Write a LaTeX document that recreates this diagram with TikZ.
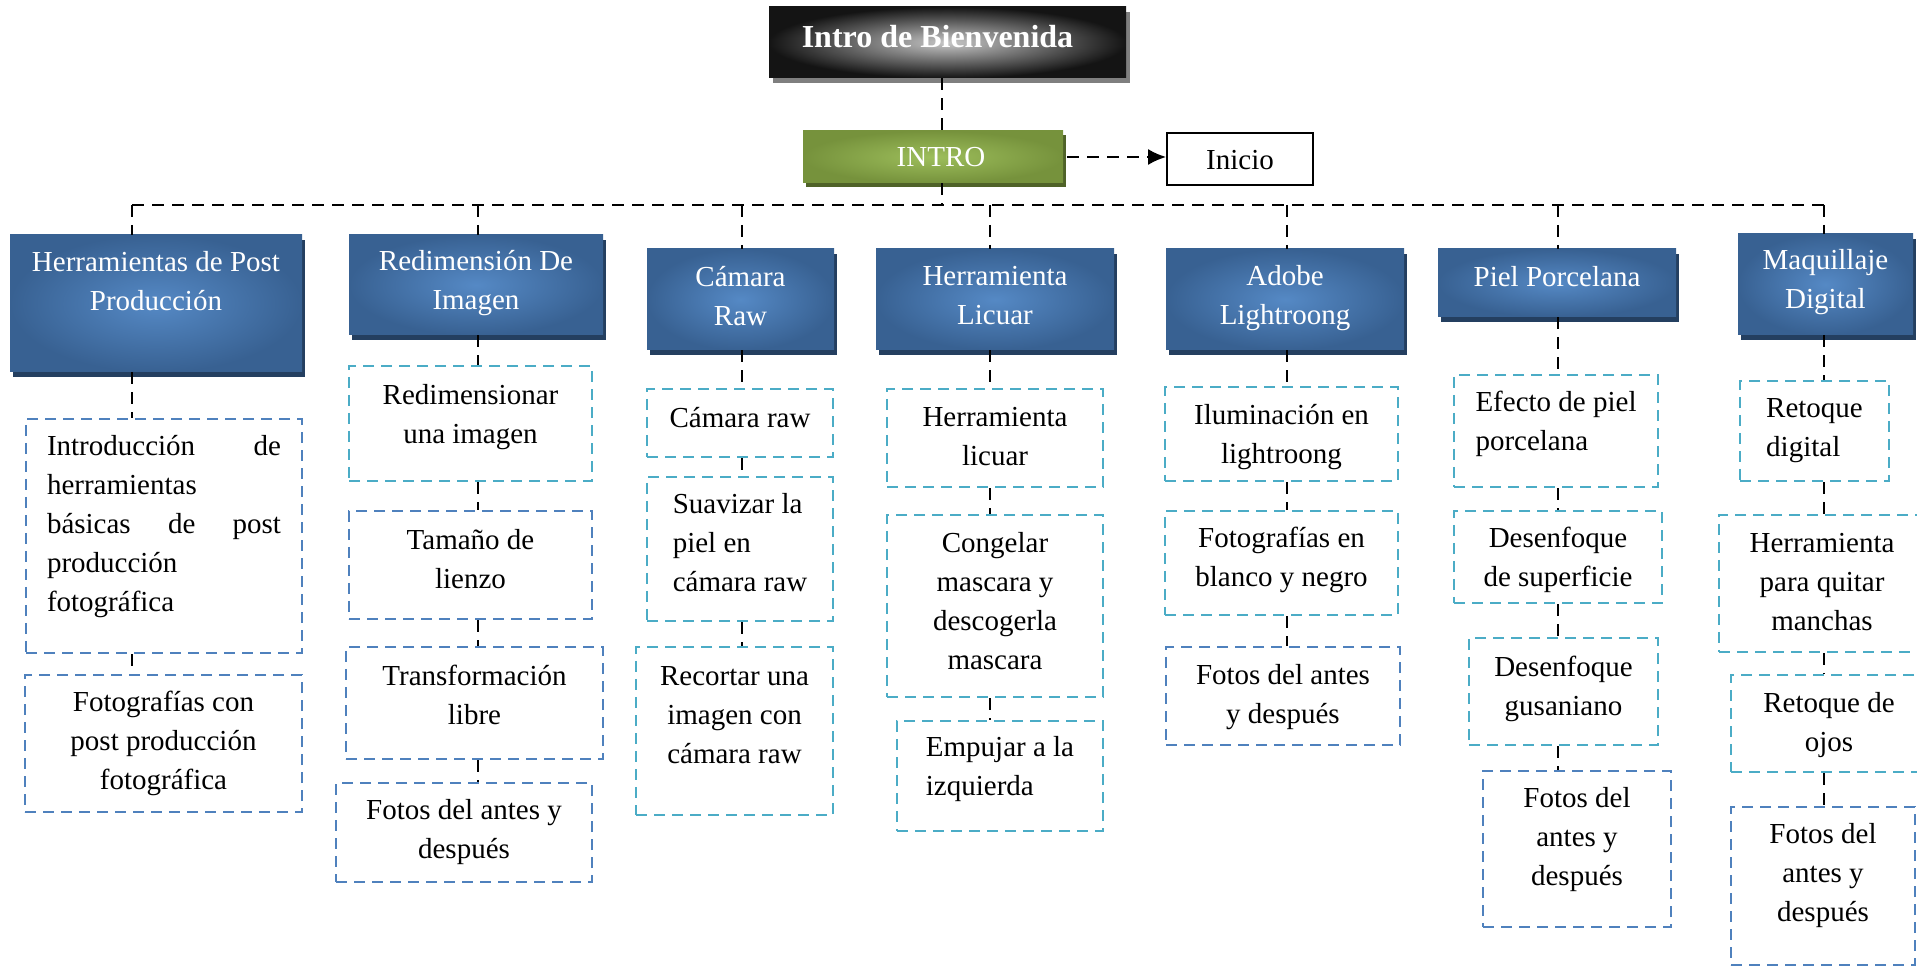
\documentclass[tikz,border=0pt]{standalone}
\usepackage{fontspec}
\setmainfont{Liberation Serif}
\usetikzlibrary{arrows.meta,shadows}
\definecolor{hdrL}{HTML}{5589C5}
\definecolor{hdrD}{HTML}{386192}
\definecolor{hdrS}{HTML}{243F60}
\definecolor{grnL}{HTML}{9DBE5B}
\definecolor{grnD}{HTML}{76923C}
\definecolor{grnS}{HTML}{4F6228}
\definecolor{topS}{HTML}{7F7F7F}
\definecolor{cyanB}{HTML}{4BACC6}
\definecolor{blueB}{HTML}{4F81BD}

\newcommand\mybox[9]{%
  \node[#6, minimum width={(#4-#2)*0.5pt}, minimum height={(#5-#3)*0.5pt}] (#1) at ({(#2+#4)/2},{(#3+#5)/2}) {};
  \node[#7] (#1t) at ({(#2+#4)/2},#8) {#9};}

\tikzset{
  fnt/.style={font=\fontsize{14.5pt}{19.5pt}\selectfont},
  hdr/.style={rectangle, draw=none, inner color=hdrL, outer color=hdrD,
    drop shadow={shadow xshift=1.5pt, shadow yshift=-2.5pt, fill=hdrS, opacity=1}},
  topbox/.style={rectangle, draw=none, inner color=black!22, outer color=black!92,
    drop shadow={shadow xshift=2pt, shadow yshift=-2.5pt, fill=topS, opacity=1}},
  introbox/.style={rectangle, draw=none, inner color=grnL, outer color=grnD,
    drop shadow={shadow xshift=1.5pt, shadow yshift=-2pt, fill=grnS, opacity=1}},
  iniciobox/.style={rectangle, draw=black, line width=0.9pt},
  dc/.style={rectangle, draw=cyanB, line width=1.2pt, dash pattern=on 5.5pt off 3.5pt},
  db/.style={rectangle, draw=blueB, line width=1.2pt, dash pattern=on 5.5pt off 3.5pt},
  htxt/.style={fnt, text=white, align=center, inner sep=0pt},
  btxt/.style={fnt, text=black, align=center, inner sep=0pt},
  ltxt/.style={fnt, text=black, align=left, inner sep=0pt},
  jtxt/.style={fnt, text=black, align=left, text width=117pt, inner sep=0pt},
  toptxt/.style={font=\fontsize{16pt}{19pt}\selectfont\bfseries, text=white, inner sep=0pt, xshift=-5pt},
  introtxt/.style={font=\fontsize{14.5pt}{19pt}\selectfont, text=white, inner sep=0pt, xshift=4pt},
  conn/.style={draw=black, line width=1pt, dash pattern=on 6pt off 4pt},
}

\begin{document}
\begin{tikzpicture}[x=0.5pt,y=-0.5pt]
\useasboundingbox (0,0) rectangle (1917,967);
\clip (0,0) rectangle (1917,967);

% top level
\mybox{top}{769}{7}{1126}{78}{topbox}{toptxt}{37}{Intro de Bienvenida}
\mybox{intro}{803}{131}{1063}{183}{introbox}{introtxt}{157}{INTRO}
\mybox{inicio}{1167}{133}{1313}{185}{iniciobox}{btxt}{160}{Inicio}

% column 1
\mybox{h1}{10}{235}{302}{372}{hdr}{htxt}{281}{Herramientas de Post\\Producción}
\mybox{c1a}{26}{419}{302}{653}{db}{jtxt}{527}{Introducción\hfill de\\herramientas\\básicas\hfill de\hfill post\\producción\\fotográfica}
\mybox{c1b}{25}{675}{302}{812}{db}{btxt}{743}{Fotografías con\\post producción\\fotográfica}

% column 2
\mybox{h2}{349}{235}{603}{335}{hdr}{htxt}{283}{Redimensión De\\Imagen}
\mybox{c2a}{349}{366}{592}{481}{dc}{btxt}{417}{Redimensionar\\una imagen}
\mybox{c2b}{349}{511}{592}{619}{db}{btxt}{559}{Tamaño de\\lienzo}
\mybox{c2c}{346}{647}{603}{759}{db}{btxt}{695}{Transformación\\libre}
\mybox{c2d}{336}{783}{592}{882}{db}{btxt}{832}{Fotos del antes y\\después}

% column 3
\mybox{h3}{647}{249}{834}{350}{hdr}{htxt}{296}{Cámara\\Raw}
\mybox{c3a}{647}{389}{833}{457}{dc}{btxt}{418}{Cámara raw}
\mybox{c3b}{647}{477}{833}{621}{dc}{ltxt}{543}{Suavizar la\\piel en\\cámara raw}
\mybox{c3c}{636}{647}{833}{815}{dc}{btxt}{715}{Recortar una\\imagen con\\cámara raw}

% column 4
\mybox{h4}{876}{249}{1114}{350}{hdr}{htxt}{296}{Herramienta\\Licuar}
\mybox{c4a}{887}{389}{1103}{487}{dc}{btxt}{437}{Herramienta\\licuar}
\mybox{c4b}{887}{515}{1103}{697}{dc}{btxt}{601}{Congelar\\mascara y\\descogerla\\mascara}
\mybox{c4c}{897}{721}{1103}{831}{dc}{ltxt}{769}{Empujar a la\\izquierda}

% column 5
\mybox{h5}{1166}{249}{1404}{350}{hdr}{htxt}{298}{Adobe\\Lightroong}
\mybox{c5a}{1165}{387}{1398}{481}{dc}{btxt}{437}{Iluminación en\\lightroong}
\mybox{c5b}{1165}{511}{1398}{615}{dc}{btxt}{560}{Fotografías en\\blanco y negro}
\mybox{c5c}{1166}{647}{1400}{745}{db}{btxt}{697}{Fotos del antes\\y después}

% column 6
\mybox{h6}{1438}{249}{1676}{317}{hdr}{htxt}{277}{Piel Porcelana}
\mybox{c6a}{1454}{375}{1658}{487}{dc}{ltxt}{424}{Efecto de piel\\porcelana}
\mybox{c6b}{1454}{511}{1662}{603}{dc}{btxt}{560}{Desenfoque\\de superficie}
\mybox{c6c}{1469}{638}{1658}{745}{dc}{btxt}{689}{Desenfoque\\gusaniano}
\mybox{c6d}{1483}{771}{1671}{927}{db}{btxt}{840}{Fotos del\\antes y\\después}

% column 7
\mybox{h7}{1738}{234}{1913}{335}{hdr}{htxt}{282}{Maquillaje\\Digital}
\mybox{c7a}{1740}{381}{1889}{481}{dc}{ltxt}{431}{Retoque\\digital}
\mybox{c7b}{1719}{515}{1925}{652}{dc}{btxt}{582}{Herramienta\\para quitar\\manchas}
\mybox{c7c}{1731}{675}{1927}{772}{dc}{btxt}{725}{Retoque de\\ojos}
\mybox{c7d}{1731}{807}{1915}{965}{db}{btxt}{876}{Fotos del\\antes y\\después}

% trunk coordinates
\coordinate (tr) at (942,205);
\coordinate (t1) at (132,205);
\coordinate (t2) at (478,205);
\coordinate (t3) at (742,205);
\coordinate (t4) at (990,205);
\coordinate (t5) at (1287,205);
\coordinate (t6) at (1558,205);
\coordinate (t7) at (1824,205);

% connectors
\draw[conn] (top.south -| tr) -- (intro.north -| tr);
\draw[conn] (intro.south -| tr) -- (tr);
\draw[conn] (t1) -- (t7);
\draw[conn, -{Latex[length=9pt,width=8pt]}] ([xshift=2pt]intro.east) -- (intro.east -| inicio.west);

\draw[conn] (t1) -- (h1.north -| t1);
\draw[conn] (h1.south -| t1) -- (c1a.north -| t1);
\draw[conn] (c1a.south -| t1) -- (c1b.north -| t1);

\draw[conn] (t2) -- (h2.north -| t2);
\draw[conn] (h2.south -| t2) -- (c2a.north -| t2);
\draw[conn] (c2a.south -| t2) -- (c2b.north -| t2);
\draw[conn] (c2b.south -| t2) -- (c2c.north -| t2);
\draw[conn] (c2c.south -| t2) -- (c2d.north -| t2);

\draw[conn] (t3) -- (h3.north -| t3);
\draw[conn] (h3.south -| t3) -- (c3a.north -| t3);
\draw[conn] (c3a.south -| t3) -- (c3b.north -| t3);
\draw[conn] (c3b.south -| t3) -- (c3c.north -| t3);

\draw[conn] (t4) -- (h4.north -| t4);
\draw[conn] (h4.south -| t4) -- (c4a.north -| t4);
\draw[conn] (c4a.south -| t4) -- (c4b.north -| t4);
\draw[conn] (c4b.south -| t4) -- (c4c.north -| t4);

\draw[conn] (t5) -- (h5.north -| t5);
\draw[conn] (h5.south -| t5) -- (c5a.north -| t5);
\draw[conn] (c5a.south -| t5) -- (c5b.north -| t5);
\draw[conn] (c5b.south -| t5) -- (c5c.north -| t5);

\draw[conn] (t6) -- (h6.north -| t6);
\draw[conn] (h6.south -| t6) -- (c6a.north -| t6);
\draw[conn] (c6a.south -| t6) -- (c6b.north -| t6);
\draw[conn] (c6b.south -| t6) -- (c6c.north -| t6);
\draw[conn] (c6c.south -| t6) -- (c6d.north -| t6);

\draw[conn] (t7) -- (h7.north -| t7);
\draw[conn] (h7.south -| t7) -- (c7a.north -| t7);
\draw[conn] (c7a.south -| t7) -- (c7b.north -| t7);
\draw[conn] (c7b.south -| t7) -- (c7c.north -| t7);
\draw[conn] (c7c.south -| t7) -- (c7d.north -| t7);
\end{tikzpicture}
\end{document}
